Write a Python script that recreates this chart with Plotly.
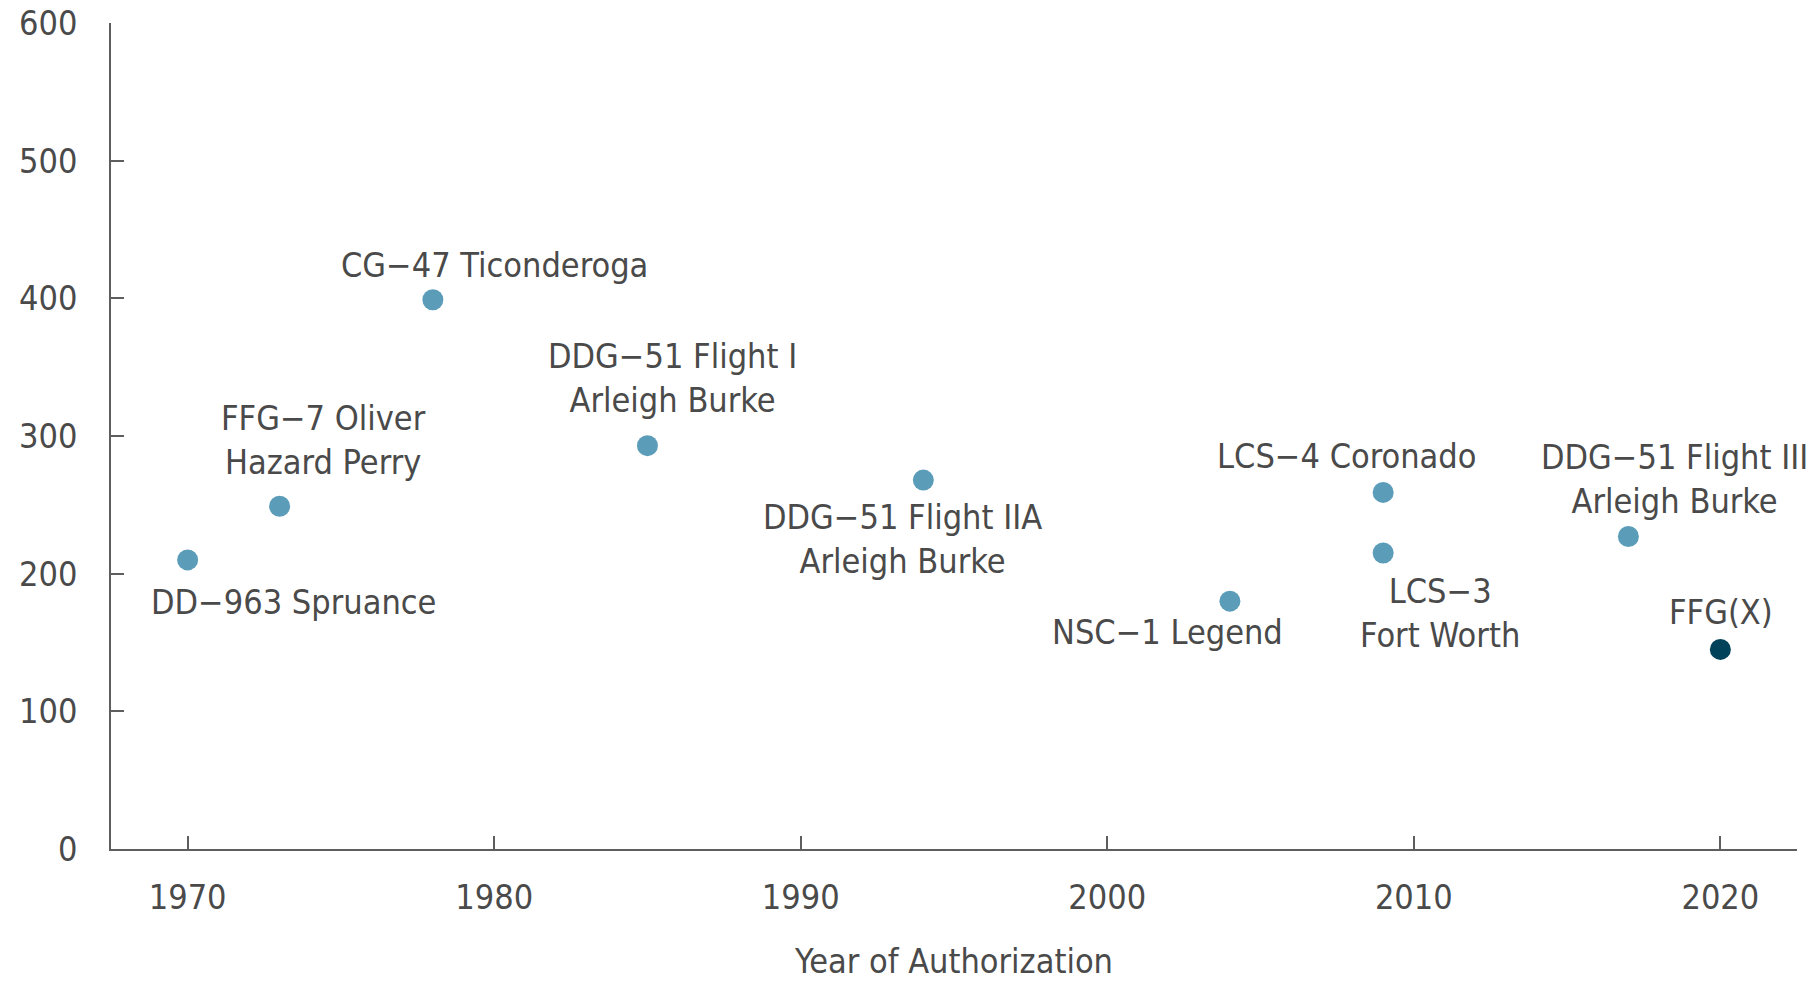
import plotly.graph_objects as go

# Ship classes, year of authorization and value
ships = ["DD−963 Spruance", "FFG−7 Oliver<br>Hazard Perry", "CG−47 Ticonderoga",
         "DDG−51 Flight I<br>Arleigh Burke", "DDG−51 Flight IIA<br>Arleigh Burke",
         "NSC−1 Legend", "LCS−4 Coronado", "LCS−3<br>Fort Worth",
         "DDG−51 Flight III<br>Arleigh Burke"]
years = [1970, 1973, 1978, 1985, 1994, 2004, 2009, 2009, 2017]
values = [210, 249, 399, 293, 268, 180, 259, 215, 227]

# the highlighted one
new_ship = "FFG(X)"
new_year = [2020]
new_value = [145]

x_ticks = [1970, 1980, 1990, 2000, 2010, 2020]
y_ticks = [0, 100, 200, 300, 400, 500, 600]

# label offsets in px relative to each point (dx, dy up)
offsets = [(106, -42), (44, 66), (62, 35), (25, 68), (-21, -59),
           (-62, -31), (-36, 36), (57, -60), (46, 58)]

FONT = "DejaVu Sans Condensed, DejaVu Sans, sans-serif"
TXT = "#4a4a4a"
AXIS = "#5e5e5e"

fig = go.Figure()
fig.add_trace(go.Scatter(x=years, y=values, mode="markers",
                         marker=dict(size=21, color="#5b9db9"),
                         hoverinfo="skip", showlegend=False))
fig.add_trace(go.Scatter(x=new_year, y=new_value, mode="markers",
                         marker=dict(size=21, color="#00425a"),
                         hoverinfo="skip", showlegend=False))

for name, xv, yv, (dx, dy) in zip(ships, years, values, offsets):
    fig.add_annotation(x=xv, y=yv, text=name, showarrow=False,
                       xshift=dx, yshift=dy, align="center",
                       font=dict(size=34, color=TXT, family=FONT))
fig.add_annotation(x=new_year[0], y=new_value[0], text=new_ship, showarrow=False,
                   xshift=1, yshift=37, font=dict(size=34, color=TXT, family=FONT))

fig.update_xaxes(range=[1967.5, 2022.5], tickvals=x_ticks, ticks="inside", ticklen=13,
                 tickcolor=AXIS, tickwidth=1.5, showline=True, linecolor=AXIS, linewidth=1.5,
                 showgrid=False, zeroline=False, ticklabelstandoff=17, automargin=False,
                 title=dict(text="Year of Authorization", standoff=42,
                            font=dict(size=34, color=TXT, family=FONT)),
                 tickfont=dict(size=34, color=TXT, family=FONT))
fig.update_yaxes(range=[0, 600], tickvals=y_ticks, ticks="inside", ticklen=13,
                 tickcolor=AXIS, tickwidth=1.5, showline=True, linecolor=AXIS, linewidth=1.5,
                 showgrid=False, zeroline=False, ticklabelstandoff=25, automargin=False,
                 ticklabeloverflow="allow",
                 tickfont=dict(size=34, color=TXT, family=FONT))

# page body adds 8px, so figure is 8px smaller each way
fig.update_layout(width=1808, height=973, plot_bgcolor="white", paper_bgcolor="white",
                  margin=dict(l=103, r=19, t=15, b=132), font=dict(family=FONT, color=TXT))

fig.write_html("out.html")
